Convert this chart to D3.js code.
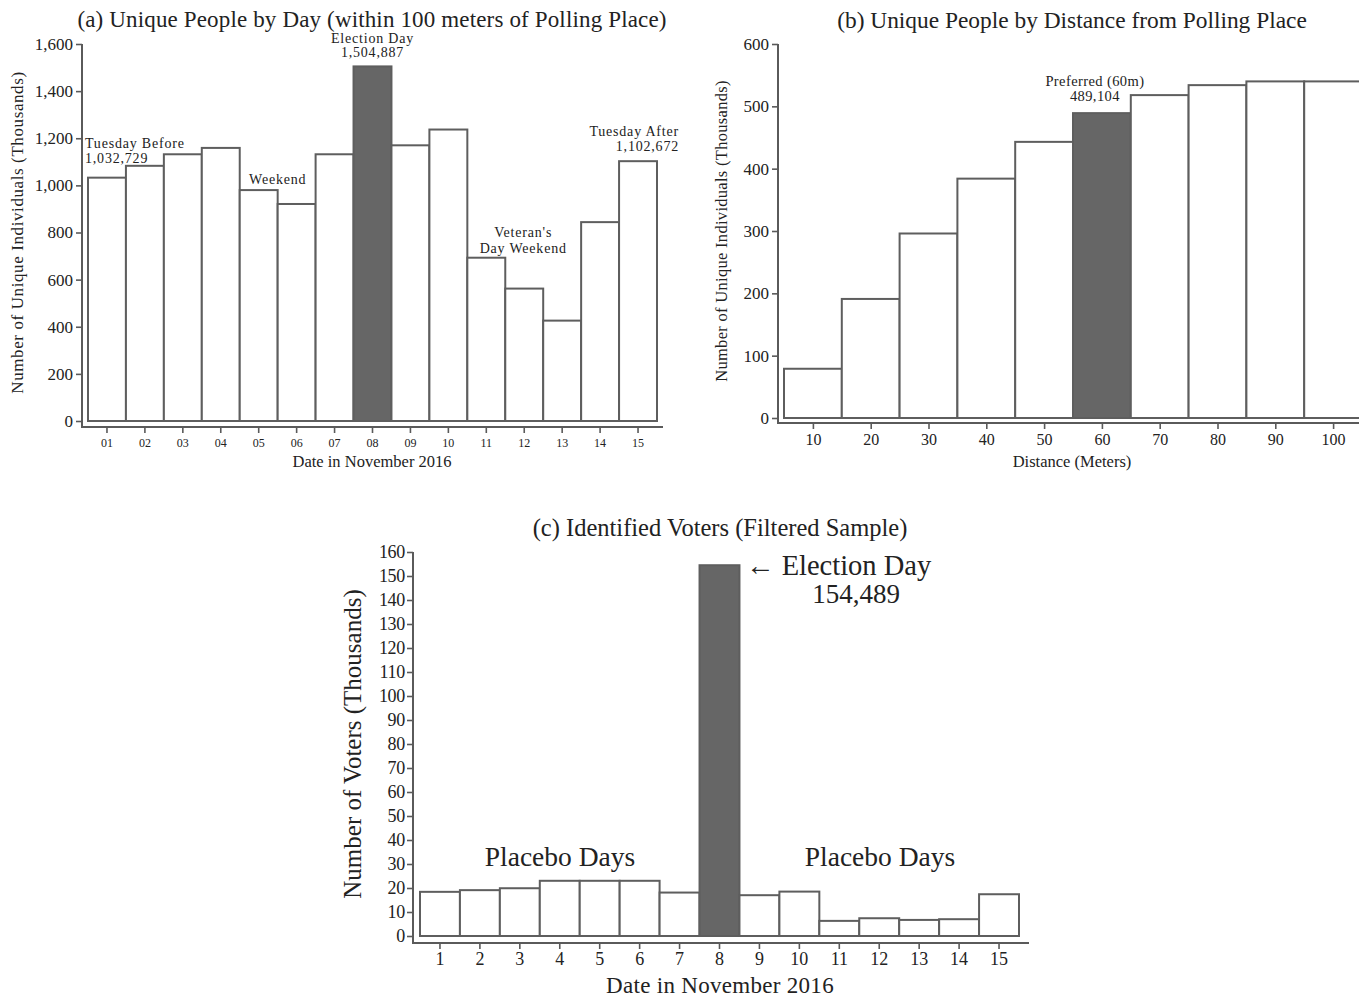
<!DOCTYPE html>
<html>
<head>
<meta charset="utf-8">
<script src="https://cdn.jsdelivr.net/npm/d3@7"></script>
<style>
  html, body { margin: 0; padding: 0; background: #fff; }
  svg { display: block; font-family: "Liberation Serif", "DejaVu Serif", serif; }
  text { fill: #222; }
</style>
</head>
<body>
<svg id="chart" width="1359" height="997"></svg>
<script>
// ---------- Data ----------
const daysA = ["01","02","03","04","05","06","07","08","09","10","11","12","13","14","15"];
const valuesA = [1032.729, 1083, 1132, 1159, 980, 921, 1132, 1504.887, 1170, 1237, 693, 562, 426, 844, 1102.672];
const highlightA = "08";
const yTicksA = [0, 200, 400, 600, 800, 1000, 1200, 1400, 1600];

const distancesB = [10, 20, 30, 40, 50, 60, 70, 80, 90, 100];
const valuesB = [79, 191, 296, 384, 443, 489.104, 518, 534, 540, 540];
const highlightB = 60;
const yTicksB = [0, 100, 200, 300, 400, 500, 600];

const daysC = ["1","2","3","4","5","6","7","8","9","10","11","12","13","14","15"];
const valuesC = [18.4, 19.1, 19.9, 23.0, 23.0, 23.0, 18.1, 154.489, 17.0, 18.5, 6.3, 7.4, 6.7, 7.0, 17.4];
const highlightC = "8";
const yTicksC = [0,10,20,30,40,50,60,70,80,90,100,110,120,130,140,150,160];

// ---------- Styles ----------
const axisColor = "#5a5a5a";
const barStroke = "#5e5e5e";
const barFillHi = "#666666";
const svg = d3.select("#chart");
const fmt = d3.format(",");

function styleAxis(g, fontSize) {
  g.select(".domain").remove();
  g.selectAll(".tick line").attr("stroke", axisColor).attr("stroke-width", 1.6);
  g.selectAll(".tick text").attr("fill", "#222").attr("font-size", fontSize)
    .attr("font-family", '"Liberation Serif", serif');
}

// ================= Panel (a) =================
{
  const x = d3.scaleBand().domain(daysA).range([88, 657]).padding(0);
  const y = d3.scaleLinear().domain([0, 1600]).range([421, 44]);
  const axX = 82, axY = 427;
  const g = svg.append("g");

  g.selectAll("rect.bar").data(daysA).join("rect")
    .attr("x", d => x(d)).attr("width", x.bandwidth())
    .attr("y", (d, i) => y(valuesA[i])).attr("height", (d, i) => y(0) - y(valuesA[i]))
    .attr("fill", d => d === highlightA ? barFillHi : "#fff")
    .attr("stroke", barStroke).attr("stroke-width", 2);

  const gy = g.append("g").attr("transform", `translate(${axX},0)`)
    .call(d3.axisLeft(y).tickValues(yTicksA).tickSize(6).tickPadding(3).tickFormat(fmt));
  styleAxis(gy, 17);
  const gx = g.append("g").attr("transform", `translate(0,${axY})`)
    .call(d3.axisBottom(x).tickSize(6).tickPadding(5));
  styleAxis(gx, 12);
  g.append("path").attr("d", `M${axX},${y(1600)}V${axY}H663`)
    .attr("fill", "none").attr("stroke", axisColor).attr("stroke-width", 2);

  g.append("text").attr("x", 372).attr("y", 27).attr("text-anchor", "middle")
    .attr("font-size", 23).attr("letter-spacing", 0.15)
    .text("(a) Unique People by Day (within 100 meters of Polling Place)");
  g.append("text").attr("transform", `translate(23,${(y(0)+y(1600))/2}) rotate(-90)`)
    .attr("text-anchor", "middle").attr("font-size", 17).attr("letter-spacing", 0.6)
    .text("Number of Unique Individuals (Thousands)");
  g.append("text").attr("x", 372).attr("y", 467).attr("text-anchor", "middle")
    .attr("font-size", 16.5).text("Date in November 2016");

  const ann = (tx, ty, anchor, txt) => g.append("text").attr("x", tx).attr("y", ty)
    .attr("text-anchor", anchor).attr("font-size", 14).attr("letter-spacing", 0.8).text(txt);
  ann(85, 148, "start", "Tuesday Before");
  ann(85, 162.5, "start", "1,032,729");
  ann(x("05") + x.bandwidth(), 184, "middle", "Weekend");
  ann(x("08") + x.bandwidth()/2, 43, "middle", "Election Day");
  ann(x("08") + x.bandwidth()/2, 57, "middle", "1,504,887");
  ann(x("12") + x.bandwidth()/2 - 1, 237, "middle", "Veteran's");
  ann(x("12") + x.bandwidth()/2 - 1, 253, "middle", "Day Weekend");
  ann(679, 136, "end", "Tuesday After");
  ann(679, 151, "end", "1,102,672");
}

// ================= Panel (b) =================
{
  const x = d3.scaleLinear().domain([5, 105]).range([784, 1362]);
  const y = d3.scaleLinear().domain([0, 600]).range([418, 44]);
  const axX = 778, axY = 423;
  const g = svg.append("g");

  g.selectAll("rect.bar").data(distancesB).join("rect")
    .attr("x", d => x(d - 5)).attr("width", d => x(d + 5) - x(d - 5))
    .attr("y", (d, i) => y(valuesB[i])).attr("height", (d, i) => y(0) - y(valuesB[i]))
    .attr("fill", d => d === highlightB ? barFillHi : "#fff")
    .attr("stroke", barStroke).attr("stroke-width", 2);

  const gy = g.append("g").attr("transform", `translate(${axX},0)`)
    .call(d3.axisLeft(y).tickValues(yTicksB).tickSize(6).tickPadding(3));
  styleAxis(gy, 17);
  const gx = g.append("g").attr("transform", `translate(0,${axY})`)
    .call(d3.axisBottom(x).tickValues(distancesB).tickSize(6).tickPadding(5));
  styleAxis(gx, 16);
  g.append("path").attr("d", `M${axX},${y(600)}V${axY}H1359`)
    .attr("fill", "none").attr("stroke", axisColor).attr("stroke-width", 2);

  g.append("text").attr("x", 1072).attr("y", 28).attr("text-anchor", "middle")
    .attr("font-size", 23.4).text("(b) Unique People by Distance from Polling Place");
  g.append("text").attr("transform", `translate(727,${(y(0)+y(600))/2}) rotate(-90)`)
    .attr("text-anchor", "middle").attr("font-size", 16.5).attr("letter-spacing", 0.3)
    .text("Number of Unique Individuals (Thousands)");
  g.append("text").attr("x", 1072).attr("y", 467).attr("text-anchor", "middle")
    .attr("font-size", 16.5).text("Distance (Meters)");

  g.append("text").attr("x", x(60) - 7).attr("y", 86).attr("text-anchor", "middle")
    .attr("font-size", 14.5).attr("letter-spacing", 0.4).text("Preferred (60m)");
  g.append("text").attr("x", x(60) - 7).attr("y", 101).attr("text-anchor", "middle")
    .attr("font-size", 14.5).attr("letter-spacing", 0.4).text("489,104");
}

// ================= Panel (c) =================
{
  const x = d3.scaleBand().domain(daysC).range([420, 1019]).padding(0);
  const y = d3.scaleLinear().domain([0, 160]).range([936, 552]);
  const axX = 413, axY = 943;
  const g = svg.append("g");

  g.selectAll("rect.bar").data(daysC).join("rect")
    .attr("x", d => x(d)).attr("width", x.bandwidth())
    .attr("y", (d, i) => y(valuesC[i])).attr("height", (d, i) => y(0) - y(valuesC[i]))
    .attr("fill", d => d === highlightC ? barFillHi : "#fff")
    .attr("stroke", barStroke).attr("stroke-width", 2);

  const gy = g.append("g").attr("transform", `translate(${axX},0)`)
    .call(d3.axisLeft(y).tickValues(yTicksC).tickSize(6).tickPadding(2));
  styleAxis(gy, 18);
  gy.selectAll(".tick text").attr("letter-spacing", -0.3);
  const gx = g.append("g").attr("transform", `translate(0,${axY})`)
    .call(d3.axisBottom(x).tickSize(6).tickPadding(3));
  styleAxis(gx, 18);
  g.append("path").attr("d", `M${axX},${y(160)}V${axY}H1029`)
    .attr("fill", "none").attr("stroke", axisColor).attr("stroke-width", 2);

  g.append("text").attr("x", 720).attr("y", 536).attr("text-anchor", "middle")
    .attr("font-size", 24.5).text("(c) Identified Voters (Filtered Sample)");
  g.append("text").attr("transform", `translate(361,${(y(0)+y(160))/2}) rotate(-90)`)
    .attr("text-anchor", "middle").attr("font-size", 25).text("Number of Voters (Thousands)");
  g.append("text").attr("x", 720).attr("y", 993).attr("text-anchor", "middle")
    .attr("font-size", 23).attr("letter-spacing", 0.3).text("Date in November 2016");

  g.append("text").attr("x", 560).attr("y", 866).attr("text-anchor", "middle")
    .attr("font-size", 27.5).text("Placebo Days");
  g.append("text").attr("x", 880).attr("y", 866).attr("text-anchor", "middle")
    .attr("font-size", 27.5).text("Placebo Days");
  g.append("text").attr("x", 746).attr("y", 575).attr("text-anchor", "start")
    .attr("font-size", 28.5).text("\u2190 Election Day");
  g.append("text").attr("x", 856).attr("y", 603).attr("text-anchor", "middle")
    .attr("font-size", 27).text("154,489");
}
</script>
</body>
</html>
